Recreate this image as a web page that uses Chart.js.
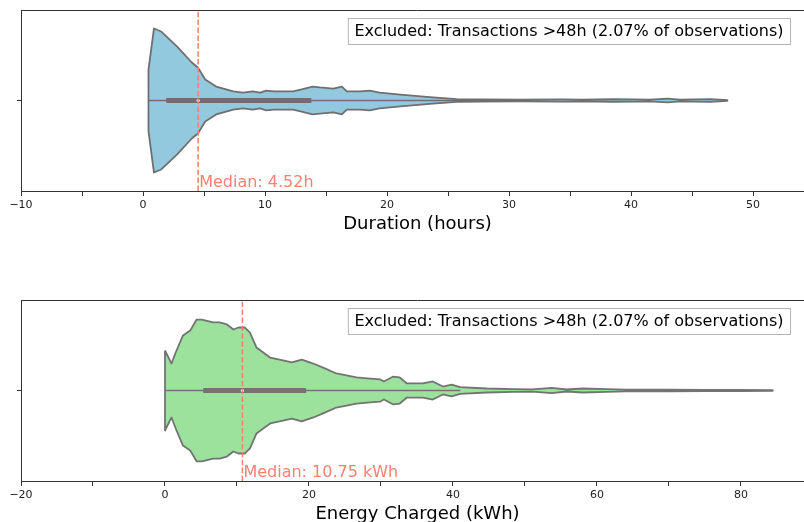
<!DOCTYPE html>
<html>
<head>
<meta charset="utf-8">
<script src="https://cdn.jsdelivr.net/npm/chart.js@4.4.1/dist/chart.umd.min.js"></script>
<style>
  html, body { margin: 0; padding: 0; background: #fff; overflow: hidden; }
  #wrap { position: relative; width: 804px; height: 522px; overflow: hidden; }
  canvas { position: absolute; left: 0; }
  #c-dur { top: 0; }
  #c-en { top: 261px; }
</style>
</head>
<body>
<div id="wrap">
  <canvas id="c-dur" width="818" height="261"></canvas>
  <canvas id="c-en" width="818" height="290"></canvas>
</div>
<script>
/* ── Data ──────────────────────────────────────────────── */
// violin half-widths (kde outline)
const durX = [0.45, 0.9, 1.5, 2.8, 4.0, 4.5, 5.1, 6.0, 7.4, 8.2,
  9.0, 9.6, 10.1, 10.7, 12.3, 13.0, 13.9, 14.5, 15.6, 16.3,
  16.7, 17.8, 18.6, 19.4, 21.1, 23.5, 25.7, 27.6, 31, 34.4,
  36, 38.5, 40.2, 41.5, 43, 44, 46.5, 47.9];
const durW = [0.171, 0.398, 0.381, 0.298, 0.210, 0.182, 0.116, 0.077, 0.050, 0.044,
  0.050, 0.044, 0.055, 0.050, 0.050, 0.061, 0.077, 0.072, 0.066, 0.077,
  0.050, 0.050, 0.055, 0.044, 0.033, 0.019, 0.008, 0.0055, 0.005, 0.0066,
  0.005, 0.007, 0.0066, 0.005, 0.010, 0.005, 0.008, 0.002];
// [whisker low, q1, median, q3, whisker high]
const durBox = [0.45, 1.9, 4.52, 13.8, 31.7];
const durTicks = [-10, -5, 0, 5, 10, 15, 20, 25, 30, 35, 40, 45, 50];
const durTickLabels = ['−10', '', '0', '', '10', '', '20', '', '30', '', '40', '', '50'];

const enX = [0, 0.9, 1.6, 2.5, 3.5, 4.4, 5.1, 6.7, 7.6, 8.6,
  9.5, 10.2, 11.1, 11.8, 12.7, 14.6, 16.4, 17.6, 19.0, 20.6,
  22.2, 23.8, 26.6, 28.5, 29.9, 30.4, 31.7, 32.6, 33.6, 35.0,
  35.8, 37.2, 38.6, 39.8, 41.0, 44.7, 48.4, 51.0, 53.7, 55.8,
  58.0, 61.4, 64, 70, 75, 80, 84.4];
const enW = [0.221, 0.149, 0.221, 0.304, 0.331, 0.392, 0.392, 0.376, 0.376, 0.365,
  0.337, 0.348, 0.348, 0.320, 0.238, 0.182, 0.166, 0.155, 0.171, 0.149,
  0.122, 0.094, 0.072, 0.066, 0.061, 0.050, 0.077, 0.072, 0.039, 0.039,
  0.039, 0.050, 0.022, 0.033, 0.019, 0.011, 0.008, 0.0066, 0.014, 0.0055,
  0.011, 0.008, 0.0045, 0.0045, 0.004, 0.004, 0.002];
const enBox = [0, 5.3, 10.75, 19.6, 41];
const enTicks = [-20, -10, 0, 10, 20, 30, 40, 50, 60, 70, 80];
const enTickLabels = ['−20', '', '0', '', '20', '', '40', '', '60', '', '80'];

const excludedNote = 'Excluded: Transactions >48h (2.07% of observations)';

/* ── Helpers ───────────────────────────────────────────── */
const FONT = '"DejaVu Sans", sans-serif';
const SALMON = '#fa8072';
const NOTE_RIGHT = 790;   // right edge of the note box, in page pixels

function overlayPlugin(opts) {
  return {
    id: 'overlay',
    afterDraw(chart) {
      const { ctx, chartArea: a, scales } = chart;
      ctx.save();
      // top spine
      ctx.strokeStyle = '#333';
      ctx.lineWidth = 1;
      ctx.beginPath();
      ctx.moveTo(a.left, a.top + 0.5);
      ctx.lineTo(a.right, a.top + 0.5);
      ctx.stroke();

      // median label
      const mx = scales.x.getPixelForValue(opts.median);
      ctx.font = '16px ' + FONT;
      ctx.fillStyle = SALMON;
      ctx.textBaseline = 'alphabetic';
      ctx.textAlign = 'left';
      ctx.fillText(opts.medianLabel, mx + 1, a.bottom - 4);

      // legend-like note box
      const tw = ctx.measureText(opts.note).width;
      const bw = tw + 13, bh = 26;
      const bx = NOTE_RIGHT - bw, by = a.top + 8;
      ctx.fillStyle = 'rgba(255,255,255,0.85)';
      ctx.fillRect(bx, by, bw, bh);
      ctx.strokeStyle = '#b5b5b5';
      ctx.strokeRect(bx + 0.5, by + 0.5, bw, bh);
      ctx.fillStyle = '#000';
      ctx.textBaseline = 'middle';
      ctx.fillText(opts.note, bx + 6.5, by + bh / 2 + 1);
      ctx.restore();
    }
  };
}

function renderViolin(canvasId, cfg) {
  const upper = cfg.xs.map((x, i) => ({ x, y: cfg.ws[i] }));
  const lower = cfg.xs.map((x, i) => ({ x, y: -cfg.ws[i] }));
  const outline = upper.concat(lower.slice().reverse(), [upper[0]]);
  const [wLo, q1, med, q3, wHi] = cfg.box;

  const base = { pointRadius: 0, tension: 0, fill: false };

  new Chart(document.getElementById(canvasId), {
    type: 'line',
    data: {
      datasets: [
        { ...base, data: [{ x: med, y: -0.5 }, { x: med, y: 0.5 }],
          borderColor: SALMON, borderWidth: 1.5, borderDash: [5.5, 2.4] },
        { ...base, data: [{ x: med, y: 0 }], showLine: false,
          pointRadius: 1.6, pointBackgroundColor: '#fff', pointBorderWidth: 0 },
        { ...base, data: [{ x: q1, y: 0 }, { x: q3, y: 0 }],
          borderColor: cfg.line, borderWidth: 5, borderCapStyle: 'butt' },
        { ...base, data: [{ x: wLo, y: 0 }, { x: wHi, y: 0 }],
          borderColor: cfg.line, borderWidth: 1.5 },
        { ...base, data: outline, borderColor: cfg.line, borderWidth: 1.8,
          borderJoinStyle: 'round' },
        { ...base, data: upper, borderWidth: 0, fill: '+1', backgroundColor: cfg.fill },
        { ...base, data: lower, borderWidth: 0 }
      ]
    },
    options: {
      responsive: false,
      animation: false,
      events: [],
      layout: { padding: cfg.padding },
      plugins: { legend: { display: false }, tooltip: { enabled: false } },
      scales: {
        x: {
          type: 'linear',
          min: cfg.xMin, max: cfg.xMax,
          afterBuildTicks: s => { s.ticks = cfg.ticks.map(v => ({ value: v })); },
          afterFit: s => { s.height = 44; s.paddingLeft = 0; s.paddingRight = 0; },
          grid: { drawOnChartArea: false, tickLength: 5, color: '#333' },
          border: { color: '#333', width: 1 },
          ticks: {
            autoSkip: false, maxRotation: 0, padding: 3, color: '#222',
            font: { family: FONT, size: 11 },
            callback: (v, i) => cfg.tickLabels[i]
          },
          title: { display: true, text: cfg.title, color: '#000',
            font: { family: FONT, size: 18 }, padding: 0 }
        },
        y: {
          min: -0.5, max: 0.5,
          afterBuildTicks: s => { s.ticks = [{ value: 0 }]; },
          afterFit: s => { s.width = 21; s.paddingTop = 0; s.paddingBottom = 0; },
          grid: { drawOnChartArea: false, tickLength: 4, color: '#333' },
          border: { color: '#333', width: 1 },
          ticks: { callback: () => '', padding: 0 }
        }
      }
    },
    plugins: [overlayPlugin({ median: med, medianLabel: cfg.medianLabel, note: excludedNote })]
  });
}

/* ── Charts ────────────────────────────────────────────── */
renderViolin('c-dur', {
  xs: durX, ws: durW, box: durBox,
  xMin: -10, xMax: 55.0,
  ticks: durTicks, tickLabels: durTickLabels,
  title: 'Duration (hours)',
  medianLabel: 'Median: 4.52h',
  fill: '#93c9de', line: '#6f6f6f',
  padding: { top: 10, left: 0, right: 0, bottom: 26 }
});

renderViolin('c-en', {
  xs: enX, ws: enW, box: enBox,
  xMin: -20, xMax: 90.14,
  ticks: enTicks, tickLabels: enTickLabels,
  title: 'Energy Charged (kWh)',
  medianLabel: 'Median: 10.75 kWh',
  fill: '#9ce29c', line: '#737373',
  padding: { top: 39, left: 0, right: 0, bottom: 26 }
});
</script>
</body>
</html>
